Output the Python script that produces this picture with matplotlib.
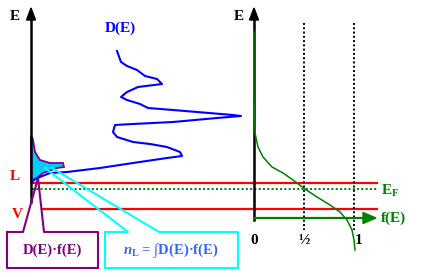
import matplotlib.pyplot as plt
from matplotlib.patches import Polygon

plt.rcParams['font.family'] = ['Liberation Serif', 'DejaVu Serif']
plt.rcParams['mathtext.fontset'] = 'custom'
plt.rcParams['mathtext.rm'] = 'Liberation Serif:bold'
plt.rcParams['mathtext.it'] = 'Liberation Serif:italic:bold'
plt.rcParams['mathtext.bf'] = 'Liberation Serif:bold'

# density of states D(E), drawn in picture units (x right, y down)
dos_x = [117, 121, 127, 137, 145, 157, 162, 138, 127, 121, 127, 140, 148, 173, 233, 241,
         217, 173, 133, 115, 113, 117, 133, 150, 167, 180, 182, 167, 133, 100, 67, 50, 40, 33]
dos_y = [51, 62, 66, 70, 76, 79, 84, 87, 92, 97, 100, 104, 108, 110, 115, 116,
         118, 122, 124, 125, 132, 137, 142, 144, 147, 152, 156, 158, 163, 168, 172, 173, 177, 180]

# occupied states D(E)*f(E)
occ_x = [31, 32, 33, 35, 40, 50, 63, 64, 57, 43, 37, 32, 31]
occ_y = [137, 137, 140, 152, 160, 163, 163, 167, 168, 173, 178, 182, 182]

# Fermi function f(E)
f_x = [254, 254, 255, 258, 263, 272, 283, 293, 305, 317, 330, 340, 347, 352, 354, 355]
f_y = [32, 100, 133, 147, 157, 167, 173, 180, 189, 197, 205, 212, 220, 230, 240, 250]

level_L = 183
level_V = 209
level_EF = 189
f_ticks = [254, 304, 354]
f_labels = ['0', '½', '1']

fig = plt.figure(figsize=(4.21, 2.77), dpi=100)
ax = fig.add_axes([0, 0, 1, 1])
ax.set_xlim(0, 421)
ax.set_ylim(277, 0)
ax.axis('off')

red = '#ff0000'
green = '#008000'
blue = '#0000ff'
purple = '#800080'
cyan = '#00ffff'

# energy levels
ax.plot([32, 377], [level_L, level_L], color=red, lw=1.6)
ax.plot([43, 377], [level_V, level_V], color=red, lw=1.6)
ax.plot([32, 377], [level_EF, level_EF], color=green, lw=1.4, ls=(0, (1, 1.2)))

# dotted guides for f = 1/2 and f = 1
for xv in f_ticks[1:]:
    ax.plot([xv, xv], [23, 230], color='black', lw=1.4, ls=(0, (1, 1.2)))

# left axis
ax.plot([31, 31], [18, 202], color='black', lw=1.8)
ax.add_patch(Polygon([[31, 8], [26.5, 20], [35.5, 20]], closed=True, color='black'))
ax.text(15, 16, 'E', fontsize=11, fontweight='bold', ha='center', va='center')

# right axis
ax.plot([254, 254], [18, 220], color='black', lw=1.8)
ax.add_patch(Polygon([[254, 8], [249.5, 20], [258.5, 20]], closed=True, color='black'))
ax.text(239, 17, 'E', fontsize=11, fontweight='bold', ha='center', va='center')

# f axis
ax.plot([254, 364], [218, 218], color=green, lw=1.6)
ax.add_patch(Polygon([[376, 218], [363, 212.5], [363, 223.5]], closed=True, color=green))
ax.text(381, 218, 'f(E)', fontsize=11, fontweight='bold', color=green, ha='left', va='center')
for xv, lab in zip(f_ticks, f_labels):
    ax.text(xv + (5 if lab == '1' else 0), 240, lab, fontsize=11, fontweight='bold',
            ha='center', va='center')

# curves
ax.plot(dos_x, dos_y, color=blue, lw=1.5)
ax.text(120, 28, 'D(E)', fontsize=11, fontweight='bold', color=blue, ha='center', va='center')
ax.plot(f_x, f_y, color=green, lw=1.1)
ax.fill(occ_x, occ_y, facecolor='#00ccff', edgecolor=purple, lw=1.3)

ax.text(15, 177, 'L', fontsize=11, fontweight='bold', color=red, ha='center', va='center')
ax.text(17, 214, 'V', fontsize=11, fontweight='bold', color=red, ha='center', va='center')
ax.text(381, 191, r'E$_\mathbf{F}$', fontsize=11, fontweight='bold', color=green,
        ha='left', va='center')

# callout D(E)*f(E)
ax.plot([7, 23, 38, 44, 98, 98, 7, 7], [232, 232, 178, 232, 232, 268, 268, 232],
        color=purple, lw=1.5)
ax.text(52, 250, 'D(E)·f(E)', fontsize=10.5, fontweight='bold', color=purple,
        ha='center', va='center')

# callout n_L
ax.plot([105, 128, 45], [232, 232, 168], color=cyan, lw=1.5)
ax.plot([52, 159, 238, 238, 105, 105], [168, 232, 232, 268, 268, 232], color=cyan, lw=1.5)
ax.text(171, 250, r'$\mathit{n}_\mathbf{L}$ = ∫D(E)·f(E)', fontsize=10.5, fontweight='bold',
        color='#3366ff', ha='center', va='center')

fig.savefig('out.png', dpi=100)
